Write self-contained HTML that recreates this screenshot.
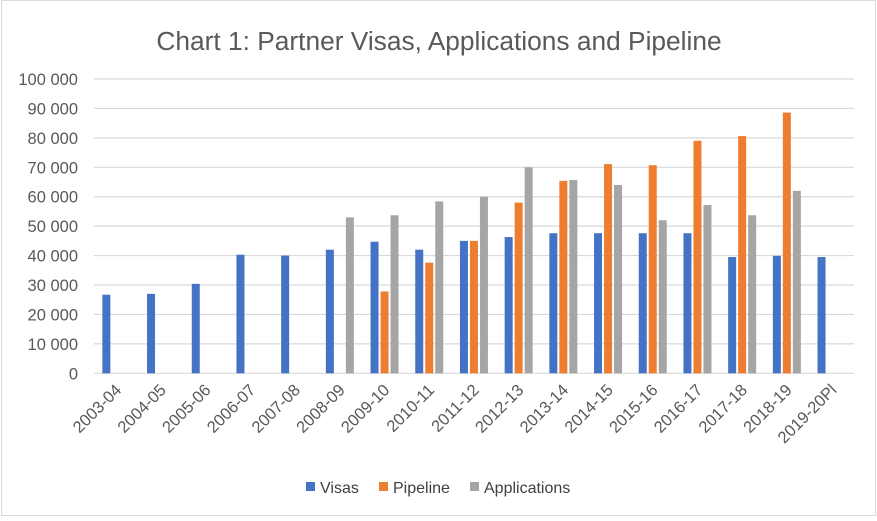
<!DOCTYPE html>
<html><head><style>body{margin:0;background:#fff}</style></head><body>
<svg width="877" height="516" xmlns="http://www.w3.org/2000/svg" font-family="Liberation Sans, sans-serif">
<rect x="1.5" y="0.5" width="874" height="515" fill="#fff" stroke="#d9d9d9"/>
<text x="439" y="50" text-anchor="middle" font-size="26.3" fill="#595959">Chart 1: Partner Visas, Applications and Pipeline</text>
<g id="grid"></g>
<g id="bars"></g>
<g id="lab"></g>
<g font-size="16" fill="#404040">
<rect x="306" y="482" width="9" height="9" fill="#4472c4"/><text x="320" y="493">Visas</text>
<rect x="379" y="482" width="9" height="9" fill="#ed7d31"/><text x="393" y="493">Pipeline</text>
<rect x="470" y="482" width="9" height="9" fill="#a5a5a5"/><text x="484" y="493">Applications</text>
</g>
<script>
var ns="http://www.w3.org/2000/svg",g=document.getElementById('grid'),b=document.getElementById('bars'),l=document.getElementById('lab');
function el(p,t,a,txt){var e=document.createElementNS(ns,t);for(var k in a)e.setAttribute(k,a[k]);if(txt!=null)e.textContent=txt;p.appendChild(e);}
var y0=373.3,s=2.943/1000;
for(var i=0;i<=10;i++){var y=y0-i*10000*s;el(g,'line',{x1:94,x2:854,y1:y,y2:y,stroke:'#d9d9d9','stroke-width':1.2});
el(l,'text',{x:78,y:y+6,'text-anchor':'end','font-size':16.5,fill:'#595959'},i==0?'0':(i*10)+' 000');}
var cats=['2003-04','2004-05','2005-06','2006-07','2007-08','2008-09','2009-10','2010-11','2011-12','2012-13','2013-14','2014-15','2015-16','2016-17','2017-18','2018-19','2019-20Pl'];
var V=[26700,27000,30400,40300,40000,42000,44700,42000,45000,46300,47600,47600,47600,47600,39500,39900,39500];
var P=[0,0,0,0,0,0,27800,37600,45000,58000,65400,71100,70700,79000,80600,88600,0];
var A=[0,0,0,0,0,53000,53700,58400,60000,70000,65700,64000,52000,57200,53700,62000,0];
var cols=['#4472c4','#ed7d31','#a5a5a5'];
cats.forEach(function(c,i){var cx=94+44.7*(i+0.5);
[V,P,A].forEach(function(d,j){if(d[i]>0){var h=d[i]*s;el(b,'rect',{x:cx-14+10*j,y:y0-h,width:8,height:h,fill:cols[j]});}});
el(l,'text',{transform:'translate('+(cx+6)+',391) rotate(-45)','text-anchor':'end','font-size':16.5,fill:'#595959'},c);});
</script>
</svg>
</body></html>
